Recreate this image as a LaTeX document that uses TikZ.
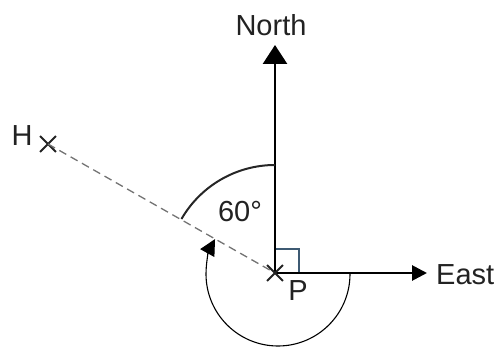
\documentclass[tikz,border=0pt]{standalone}
\usepackage{fontspec}
\setmainfont{Liberation Sans}
\usetikzlibrary{arrows.meta,shapes.misc}
\definecolor{txt}{HTML}{222222}
\definecolor{boxc}{HTML}{3D5A73}
\tikzset{
  lbl/.style={font=\fontsize{29}{33}\selectfont, text=txt, inner sep=0pt},
  xmark/.style={cross out, draw=txt, line width=1.8pt, minimum size=14pt, inner sep=0pt},
  axis/.style={line width=2.8pt, draw=black},
}
\begin{document}
\begin{tikzpicture}[x=1pt,y=1pt]
\useasboundingbox (0,0) rectangle (498,-350);
\coordinate (P) at (275,-273);
\coordinate (Ntip) at (275,-45);
\coordinate (Etip) at (427,-273);
% right angle box
\draw[boxc, line width=1.2pt] (P) rectangle ++(24,24);
% dashed line
\node[xmark] (H) at (48,-144) {};
\draw[gray!90!black, line width=1.3pt, dash pattern=on 8pt off 5pt] (H.center) -- (P);
% axes
\draw[axis, -{Triangle[length=19pt,width=24pt]}] (P) -- (Ntip);
\draw[axis, -{Triangle[length=15pt,width=15pt]}] (P) -- (Etip);
% 60 arc
\draw[line width=2pt, black!85] ([shift={(90:108)}]P) arc[start angle=90, end angle=150, radius=108];
% reflex arc
\coordinate (C) at (278,-274);
\draw[line width=1.1pt, -{Triangle[length=16pt,width=16pt]}] ([shift={(0:72)}]C) arc[start angle=0, end angle=-209, radius=72];
% crosses
\node[xmark] (Pm) at (P) {};
% labels
\node[lbl] (north) at (271,-25) {North};
\node[lbl, anchor=west] (east) at (436,-275) {East};
\node[lbl] (hl) at (22,-136) {H};
\node[lbl] (pl) at (298,-291) {P};
\node[lbl] (ang) at (240,-212) {60°};
\end{tikzpicture}
\end{document}
